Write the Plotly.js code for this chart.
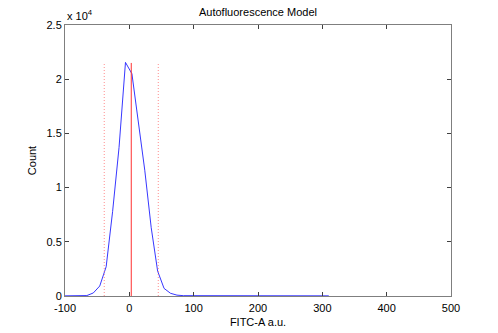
<!DOCTYPE html>
<html>
<head>
<meta charset="utf-8">
<script src="https://cdn.plot.ly/plotly-3.0.1.min.js"></script>
<style>
  body { margin: 0; background: #fff; }
  #chart { width: 498px; height: 333px; }
</style>
</head>
<body>
<div id="chart"></div>
<script>
// histogram of FITC-A autofluorescence
const fitcX = [-100, -66, -56, -46, -36, -26, -16, -6, 4, 14, 24, 34, 44, 54, 64, 74, 84, 310];
const counts = [15, 40, 280, 920, 2700, 7800, 13700, 21550, 20500, 16100, 11600, 6300, 2300, 700, 250, 80, 30, 15];

// model lines
const meanX = 3;
const gateX = [-39, 45];
const lineTop = 21500;

const yTicks = [0, 5000, 10000, 15000, 20000, 25000];
const yTickText = ['0', '0.5', '1', '1.5', '2', '2.5'];
const xTicks = [-100, 0, 100, 200, 300, 400, 500];
const xTickText = ['-100', '0', '100', '200', '300', '400', '500'];

const fontFam = 'Arial, "Liberation Sans", Helvetica, sans-serif';

const traces = [
  {
    x: fitcX, y: counts, type: 'scatter', mode: 'lines',
    line: { color: '#2020ff', width: 0.9 }, hoverinfo: 'skip'
  },
  {
    x: [meanX, meanX], y: [0, lineTop], type: 'scatter', mode: 'lines',
    line: { color: '#ff3030', width: 1 }, hoverinfo: 'skip'
  }
];
gateX.forEach(g => {
  traces.push({
    x: [g, g], y: [0, lineTop], type: 'scatter', mode: 'lines',
    line: { color: '#ff7070', width: 0.8, dash: '1px,2px' }, hoverinfo: 'skip'
  });
});

const axisCommon = {
  showgrid: false, zeroline: false,
  showline: true, linecolor: '#7f7f7f', linewidth: 1,
  mirror: 'ticks', ticks: 'inside', ticklen: 4, tickcolor: '#404040',
  tickfont: { family: fontFam, size: 11, color: '#000' },
  fixedrange: true
};

const layout = {
  width: 498, height: 333,
  margin: { l: 65, r: 47, t: 25, b: 37 },
  paper_bgcolor: '#fff', plot_bgcolor: '#fff',
  showlegend: false,
  font: { family: fontFam, size: 11, color: '#000' },
  title: {
    text: 'Autofluorescence Model',
    font: { family: fontFam, size: 11, color: '#000' },
    x: 0.5, xref: 'paper', y: 1 - 12 / 333, yref: 'container', yanchor: 'middle'
  },
  xaxis: Object.assign({}, axisCommon, {
    range: [-100, 500], tickvals: xTicks, ticktext: xTickText, ticklabelstandoff: 2,
    title: { text: 'FITC-A a.u.', font: { family: fontFam, size: 11 }, standoff: 5 }
  }),
  yaxis: Object.assign({}, axisCommon, {
    range: [0, 25000], tickvals: yTicks, ticktext: yTickText,
    title: { text: 'Count', font: { family: fontFam, size: 11 }, standoff: 7 }
  }),
  annotations: [{
    text: 'x 10<sup>4</sup>', xref: 'paper', yref: 'paper',
    x: 0, y: 1, xanchor: 'left', yanchor: 'bottom', yshift: 1,
    showarrow: false, font: { family: fontFam, size: 11 }
  }]
};

Plotly.newPlot('chart', traces, layout, { displayModeBar: false, staticPlot: true });
</script>
</body>
</html>
